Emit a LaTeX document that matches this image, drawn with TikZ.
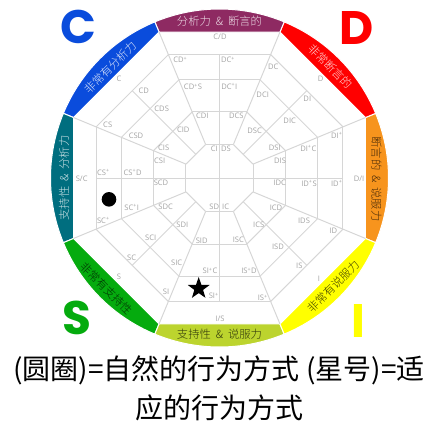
\documentclass[tikz,border=0pt]{standalone}
\usepackage{fontspec}
\usetikzlibrary{shapes.geometric}
\setmainfont{Open Sans}
\newfontfamily\cjk{Noto Sans CJK SC}
\newfontfamily\cjkl[UprightFont={* Light}]{Noto Sans CJK SC}
\newfontfamily\lettersfont{Poppins}
\newcommand{\pl}{\textsuperscript{+}}
\definecolor{gridc}{HTML}{D6D6D6}
\definecolor{labc}{HTML}{A3A3A3}
\definecolor{segD}{HTML}{FF0000}
\definecolor{segDI}{HTML}{F7941D}
\definecolor{segI}{HTML}{FFFF00}
\definecolor{segIS}{HTML}{BCD42E}
\definecolor{segS}{HTML}{05AB0E}
\definecolor{segSC}{HTML}{006E7F}
\definecolor{segC}{HTML}{0A4CDC}
\definecolor{segCD}{HTML}{8E2A62}
\tikzset{
  gridline/.style={draw=gridc,line width=1pt},
  seg/.style={draw=white,line width=1pt,line join=miter},
  lab/.style={text=labc,font=\fontsize{7.6}{8}\selectfont,inner sep=0pt},
  segtext/.style={font=\cjkl\fontsize{11.3}{12}\selectfont,inner sep=0pt},
  bigletter/.style={font=\lettersfont\bfseries\fontsize{47}{47}\selectfont,inner sep=0pt},
  caption/.style={font=\cjk\fontsize{28}{28}\selectfont,inner sep=0pt,text=black},
}
\begin{document}
\begin{tikzpicture}[x=1pt,y=1pt]
\useasboundingbox (0,0) rectangle (427,-421);
\begin{scope}[shift={(219.5,-178)}]
  % coloured ring
  \foreach \a/\c in {22.5/segDI,67.5/segD,112.5/segCD,157.5/segC,202.5/segSC,247.5/segS,292.5/segIS,337.5/segI}{
    \pgfmathsetmacro{\s}{\a-45}
    \pgfmathsetmacro{\e}{\a}
    \fill[\c,seg] (\s:169) arc[start angle=\s,end angle=\e,radius=169] -- (\e:158) -- (\s:158) -- cycle;
  }
  % octagon edges and spokes
  \foreach \k in {0,...,7}{
    \pgfmathsetmacro{\a}{22.5+45*\k}
    \pgfmathsetmacro{\b}{67.5+45*\k}
    \draw[gridline] (\a:36.3) -- (\a:158);
    \draw[gridline] (\a:36.3) -- (\b:36.3);
    \draw[gridline] (\a:71.5) -- (\b:71.5);
    \draw[gridline] (\a:106.2) -- (\b:106.2);
    \draw[gridline] (\a:133.6) -- (\b:133.6);
    \pgfmathsetmacro{\m}{45+45*\k}
    \draw[gridline] (\m:123.5) -- (\m:33.5);
  }
  \draw[gridline] (0,123.5) -- (0,-123.5);
  \draw[gridline] (-123.5,0) -- (123.5,0);
\end{scope}
% small labels
\foreach \x/\y/\t [count=\n] in {
119/79/C,143.7/90.7/CD,107.7/125/CS,161.7/109/CDS,136/136/CSD,183.3/129.3/CID,163.7/148/CIS,159.7/160.3/CSI,
180.3/60/CD\pl,193/87/CD\pl S,202.3/115.7/CDI,103.3/172.7/CS\pl,132.7/172.7/CS\pl D,81.7/178.3/S\slash C,
220/37/C\slash D,228/60/DC\pl,229.3/86.7/DC\pl I,236.3/115.3/DCS,273.3/66.7/DC,320.7/79/D,262.7/95/DCI,307.3/99/DI,
289.7/121/DIC,254.7/130.7/DSC,336.7/135.7/DI\pl,308.3/148.3/DI\pl C,274.7/148/DSI,280/160.3/DIS,226/149/DS,214.3/149/CI,
359/179/D\slash I,279.7/182.7/IDC,309/183.3/ID\pl S,336.7/183.3/ID\pl,276/207.3/ICD,304/220.7/IDS,333.3/231/ID,
258.7/224.7/ICS,278/246.7/ISD,299.3/266/IS,238.3/240/ISC,249/271/IS\pl D,319/278.3/I,262.7/298/IS\pl,220/318.3/I\slash S,
225.7/206.7/IC,214.3/206.7/SD,210/271/SI\pl C,213.7/296/SI\pl,161/182.3/SCD,131.7/207.7/SC\pl I,165.7/206.7/SDC,
103.3/220.7/SC\pl,182.3/224.3/SDI,150.7/237.7/SCI,201.7/240.3/SID,131.7/257.3/SC,176.7/262.3/SIC,119/276.7/S,166/291.7/SI}{
  \node[lab] (lab\n) at (\x,-\y) {\t};
}
% ring texts
\node[segtext,text=white!85!segCD] (tCD) at (219.5,-21) {分析力 \ \& \ 断言的};
\node[segtext,text=white!85!segD,rotate=-45] (tD) at (330.7,-66.7) {非常断言的};
\node[segtext,text=black!70!segDI,rotate=-90] (tDI) at (376.5,-179) {断言的 \ \& \ 说服力};
\node[segtext,text=black!75!segI,rotate=45] (tI) at (333.3,-286.7) {非常有说服力};
\node[segtext,text=black!75!segIS] (tIS) at (219.5,-334) {支持性 \ \& \ 说服力};
\node[segtext,text=black!70!segS,rotate=-45] (tS) at (106.7,-288.3) {非常有支持性};
\node[segtext,text=white!80!segSC,rotate=90] (tSC) at (64,-178) {支持性 \ \& \ 分析力};
\node[segtext,text=white!85!segC,rotate=45] (tC) at (110,-67) {非常有分析力};
% corner letters
\node[bigletter,text=segC] (lC) at (78,-27) {C};
\node[bigletter,text=segD] (lD) at (357,-28) {D};
\node[bigletter,text=segS] (lS) at (77,-318) {S};
\node[bigletter,text=segI] (lI) at (358,-321) {I};
% markers
\node[circle,fill=black,minimum size=14.6pt,inner sep=0pt] (dot) at (109,-199.3) {};
\node[star,star points=5,star point ratio=2.5,fill=black,minimum size=23pt,inner sep=0pt] (st) at (198.7,-288.5) {};
% caption
\node[caption] (cap1) at (219,-370) {(圆圈)=自然的行为方式 (星号)=适};
\node[caption] (cap2) at (219,-408) {应的行为方式};
\end{tikzpicture}
\end{document}
